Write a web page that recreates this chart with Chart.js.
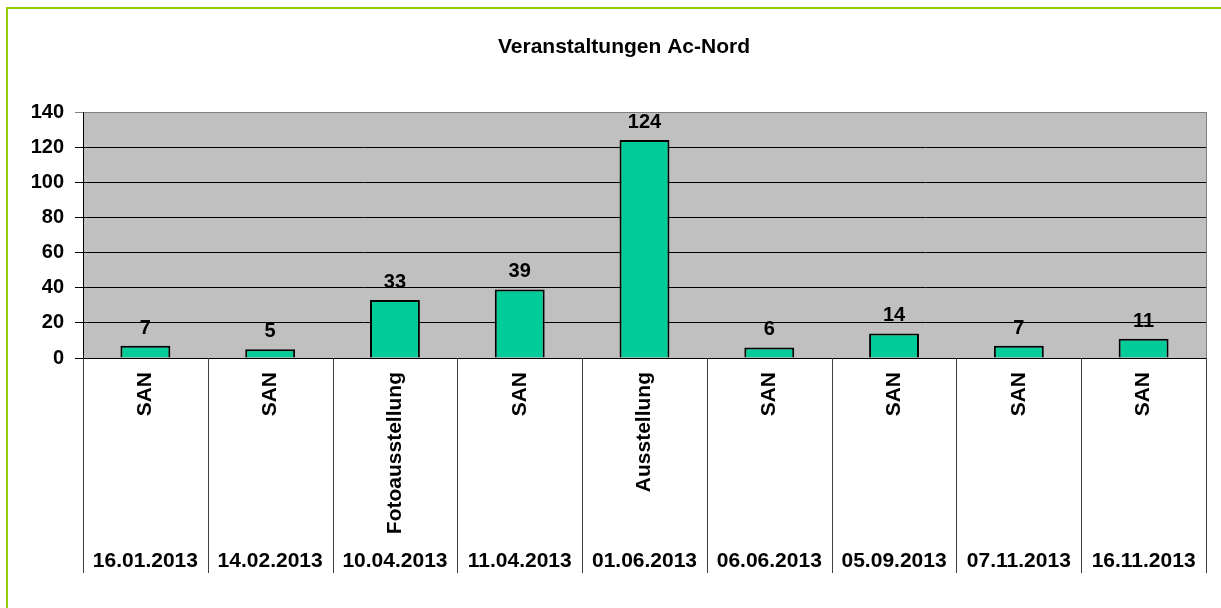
<!DOCTYPE html>
<html>
<head>
<meta charset="utf-8">
<script src="https://cdn.jsdelivr.net/npm/chart.js@4.4.1/dist/chart.umd.min.js"></script>
<style>
html,body{margin:0;padding:0;background:#fff;}
canvas{display:block;}
</style>
</head>
<body>
<canvas id="c" width="1221" height="608"></canvas>
<script>
const eventTypes = ["SAN","SAN","Fotoausstellung","SAN","Ausstellung","SAN","SAN","SAN","SAN"];
const eventDates = ["16.01.2013","14.02.2013","10.04.2013","11.04.2013","01.06.2013","06.06.2013","05.09.2013","07.11.2013","16.11.2013"];
const visitors = [7,5,33,39,124,6,14,7,11];
const yTicks = {min:0, max:140, step:20};
const chartTitle = "Veranstaltungen Ac-Nord";

const FONT = "'Liberation Sans', Arial, Helvetica, sans-serif";

const decor = {
  id: 'decor',
  beforeDraw(chart) {
    const {ctx, chartArea: a} = chart;
    ctx.save();
    ctx.fillStyle = '#C0C0C0';
    ctx.fillRect(a.left, a.top, a.right - a.left, a.bottom - a.top);
    ctx.restore();
  },
  afterDatasetsDraw(chart) {
    const {ctx, chartArea: a} = chart;
    const xs = chart.scales.x, x2 = chart.scales.x2;
    ctx.save();
    // right plot border
    ctx.strokeStyle = '#808080';
    ctx.lineWidth = 1;
    ctx.beginPath();
    ctx.moveTo(Math.round(a.right) + 0.5, a.top);
    ctx.lineTo(Math.round(a.right) + 0.5, a.bottom);
    ctx.stroke();
    // category separators
    const n = eventTypes.length;
    ctx.strokeStyle = '#404040';
    for (let i = 0; i <= n; i++) {
      let x;
      if (i === 0) x = xs.left;
      else if (i === n) x = xs.right;
      else x = (xs.getPixelForValue(i - 1) + xs.getPixelForValue(i)) / 2;
      x = Math.round(x) + 0.5;
      ctx.beginPath();
      ctx.moveTo(x, a.bottom);
      ctx.lineTo(x, x2.bottom);
      ctx.stroke();
    }
    // value labels
    const meta = chart.getDatasetMeta(0);
    ctx.fillStyle = '#000';
    ctx.font = 'bold 20px ' + FONT;
    ctx.textAlign = 'center';
    ctx.textBaseline = 'alphabetic';
    meta.data.forEach((bar, i) => {
      ctx.fillText(String(visitors[i]), bar.x, bar.y - 12);
    });
    ctx.restore();
  },
  afterDraw(chart) {
    const {ctx} = chart;
    ctx.save();
    // title
    ctx.fillStyle = '#000';
    ctx.font = 'bold 21px ' + FONT;
    ctx.textAlign = 'center';
    ctx.textBaseline = 'alphabetic';
    ctx.fillText(chartTitle, 624, 53);
    // outer frame
    ctx.strokeStyle = '#99CC00';
    ctx.lineWidth = 2;
    ctx.strokeRect(7, 8, 1400, 800);
    ctx.restore();
  }
};

new Chart(document.getElementById('c'), {
  type: 'bar',
  data: {
    labels: eventTypes,
    datasets: [{
      data: visitors,
      backgroundColor: '#00CC99',
      borderColor: '#000',
      borderWidth: 2,
      barPercentage: 0.4,
      categoryPercentage: 1.0,
      xAxisID: 'x',
      yAxisID: 'y'
    }]
  },
  options: {
    responsive: false,
    animation: false,
    devicePixelRatio: 1,
    layout: {padding: {left: 0, right: 15, top: 112, bottom: 35}},
    plugins: {
      legend: {display: false},
      tooltip: {enabled: false},
      title: {display: false}
    },
    scales: {
      y: {
        min: yTicks.min, max: yTicks.max,
        ticks: {stepSize: yTicks.step, color: '#000', padding: 11,
          font: {family: FONT, size: 20, weight: 'bold'}},
        grid: {
          color: (c) => (c.tick && c.tick.value === yTicks.max) ? '#808080' : '#000',
          lineWidth: 1, tickLength: 8, drawTicks: true
        },
        border: {display: true, color: '#000', width: 1},
        afterFit(s) { s.width = 83; }
      },
      x: {
        type: 'category',
        position: 'bottom',
        weight: 0,
        offset: true,
        labels: eventTypes,
        ticks: {minRotation: 90, maxRotation: 90, autoSkip: false, padding: 14, color: '#000',
          font: {family: FONT, size: 21, weight: 'bold'}},
        grid: {display: false, drawTicks: false},
        border: {display: true, color: '#000', width: 1},
        afterFit(s) { s.height = 182; }
      },
      x2: {
        type: 'category',
        position: 'bottom',
        weight: 1,
        offset: true,
        labels: eventDates,
        ticks: {autoSkip: false, maxRotation: 0, minRotation: 0, padding: 9, color: '#000',
          font: {family: FONT, size: 21, weight: 'bold'}},
        grid: {display: false, drawTicks: false},
        border: {display: false},
        afterFit(s) { s.height = 33; }
      }
    }
  },
  plugins: [decor]
});
</script>
</body>
</html>
